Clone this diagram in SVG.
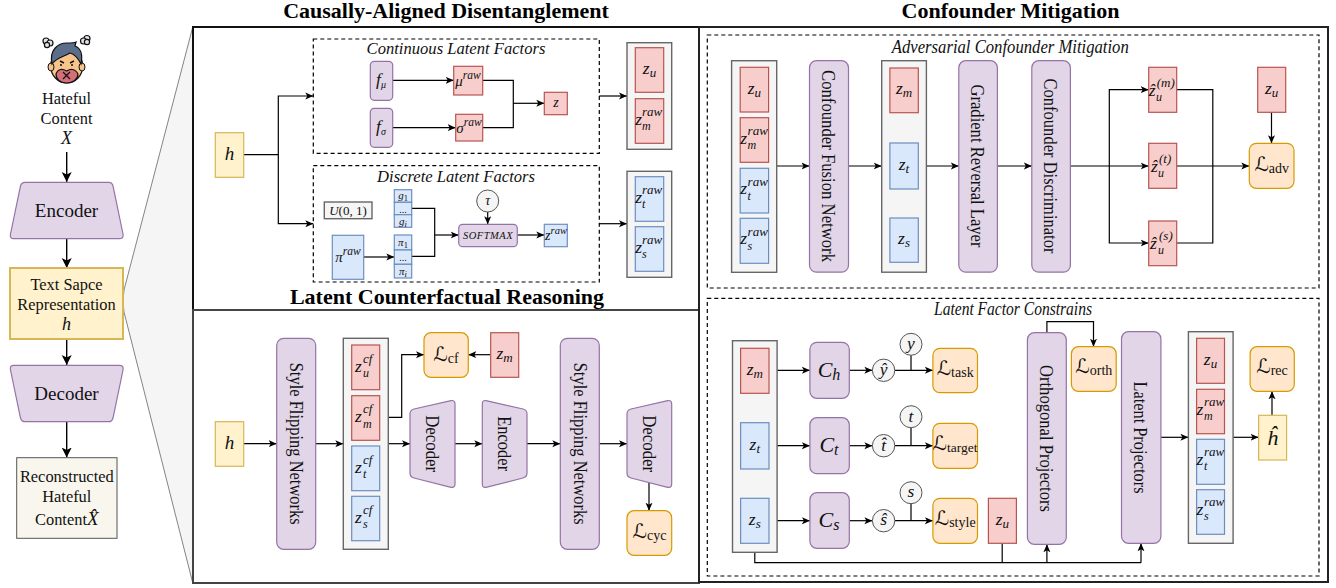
<svg xmlns="http://www.w3.org/2000/svg" width="1336" height="588" viewBox="0 0 1336 588">
<style>
text{font-family:"Liberation Serif","DejaVu Serif","DejaVu Sans",serif;fill:#111}
.ttl{font-size:22px;font-weight:bold;text-anchor:middle;fill:#000}
.cap{font-size:16.6px;font-style:italic;text-anchor:middle}
.lbl{font-size:16.4px;text-anchor:middle}
.big{font-size:19px;text-anchor:middle}
.vt{font-size:19px;text-anchor:middle}
.m{font-size:17.5px;font-style:italic;text-anchor:middle}
.raw{font-size:17.5px;font-style:italic}
.sup{font-size:13px;font-style:italic}
.sb{font-size:12px;font-style:italic}
.s{font-size:13px;font-style:italic}
.L{font-size:20px;font-style:italic;text-anchor:middle}
.ls{font-size:14px;font-style:normal}
.pur{fill:#e1d5e7;stroke:#9673a6;stroke-width:1.2}
.red{fill:#f8cecc;stroke:#b85450;stroke-width:1.2}
.blu{fill:#dae8fc;stroke:#6c8ebf;stroke-width:1.2}
.yel{fill:#fff2cc;stroke:#d6b656;stroke-width:1.2}
.org{fill:#ffe6cc;stroke:#d79b00;stroke-width:1.2}
.gry{fill:#f5f5f5;stroke:#666;stroke-width:1.4}
.circ{fill:#f5f5f5;stroke:#555;stroke-width:1}
.dash{fill:none;stroke:#000;stroke-width:1.2;stroke-dasharray:4 3}
.panel{fill:#fff;stroke-width:2}
.c{fill:none;stroke:#000;stroke-width:1.2;marker-end:url(#a)}
.n{fill:none;stroke:#000;stroke-width:1.2}
.cb{fill:none;stroke:#000;stroke-width:1.4;marker-end:url(#b)}
</style>
<defs>
<marker id="a" markerUnits="userSpaceOnUse" markerWidth="10" markerHeight="8" refX="8" refY="4" orient="auto"><path d="M0,0.5 L8,4 L0,7.5 L2,4 Z" fill="#000"/></marker>
<marker id="b" markerUnits="userSpaceOnUse" markerWidth="12" markerHeight="12" refX="10" refY="6" orient="auto"><path d="M0,1 L10,6 L0,11 L2.5,6 Z" fill="#000"/></marker>
</defs>
<rect width="1336" height="588" fill="#fff"/>

<g id="zoom-wedge"><path d="M193 26 L124 290 Q122 302 124 312 L193 584 Z" fill="#f5f5f5" stroke="#666" stroke-width="0.8"/></g>

<text class="ttl" x="446" y="18">Causally-Aligned Disentanglement</text>
<text class="ttl" x="1010.5" y="18">Confounder Mitigation</text>

<g id="panels">
<rect class="panel" x="193" y="27" width="506" height="283" stroke="#111"/>
<rect class="panel" x="193" y="310" width="506" height="273" stroke="#444"/>
<rect class="panel" x="699" y="27" width="629" height="555" stroke="#222"/>
<rect class="dash" x="313.3" y="39" width="286" height="114.3"/>
<rect class="dash" x="313.3" y="165.7" width="286" height="116.3"/>
<rect class="dash" x="707.3" y="35" width="611.7" height="253"/>
<rect class="dash" x="707.3" y="298.3" width="611.7" height="277.7"/>
</g>
<text class="ttl" x="447" y="304">Latent Counterfactual Reasoning</text>
<text class="cap" x="456" y="54">Continuous Latent Factors</text>
<text class="cap" x="456" y="182">Discrete Latent Factors</text>
<text class="cap" x="1010.3" y="53" textLength="237" lengthAdjust="spacingAndGlyphs" style="font-size:18px">Adversarial Confounder Mitigation</text>
<text class="cap" x="1013" y="315" textLength="158" lengthAdjust="spacingAndGlyphs" style="font-size:18px">Latent Factor Constrains</text>

<g id="connectors">
<path class="cb" d="M66.7 152V182"/>
<path class="cb" d="M66.7 238.7V268"/>
<path class="cb" d="M66.7 339V365"/>
<path class="cb" d="M66.7 421.7V457.5"/>
<path class="c" d="M243.7 154.7H278.3V96H313.3"/>
<path class="c" d="M278.3 154.7V223.7H313.3"/>
<path class="c" d="M392.7 80.3H453.7"/>
<path class="c" d="M392.7 127.7H455.7"/>
<path class="n" d="M482.7 80.3H513.3V127.7H482.7"/>
<path class="c" d="M513.3 103.3H544.3"/>
<path class="c" d="M599.3 96H627"/>
<path class="c" d="M599.3 223.7H627"/>
<path class="c" d="M363.7 257H394.3"/>
<path class="n" d="M411.7 208.3H434.7V256.3H411.7"/>
<path class="c" d="M434.7 235H458.7"/>
<path class="c" d="M517.3 235H544.3"/>
<path class="c" d="M487.7 212V224.3"/>
<path class="c" d="M243.7 443.7H276.7"/>
<path class="c" d="M315.7 443.7H343.3"/>
<path class="c" d="M388.3 443.7H410"/>
<path class="c" d="M455 443.7H482.3"/>
<path class="c" d="M527 443.7H560.3"/>
<path class="c" d="M599.3 443.7H627"/>
<path class="c" d="M379.7 417.3H401.7V354.7H424"/>
<path class="c" d="M490.7 354.7H468.3"/>
<path class="c" d="M649 482.7V510.7"/>
<path class="c" d="M776.7 166H809.5"/>
<path class="c" d="M848.5 166H881.7"/>
<path class="c" d="M926.4 166H958.8"/>
<path class="c" d="M997.4 166H1031.8"/>
<path class="c" d="M1070.4 166H1148.7"/>
<path class="c" d="M1109.3 166V89.7H1148.7"/>
<path class="c" d="M1109.3 166V243H1148.7"/>
<path class="n" d="M1176.7 89.7H1212.8V243H1176.7"/>
<path class="c" d="M1176.7 166H1249.3"/>
<path class="c" d="M1271.5 112.3V143.3"/>
<path class="c" d="M777.1 370.3H809.9"/>
<path class="c" d="M777.1 445.7H809.9"/>
<path class="c" d="M777.1 520.7H809.9"/>
<path class="c" d="M849.3 370.3H872.4"/>
<path class="c" d="M849.3 445.7H872.4"/>
<path class="c" d="M849.3 520.7H872.4"/>
<path class="c" d="M894.8 370.3H932.9"/>
<path class="c" d="M894.8 445.7H932.9"/>
<path class="c" d="M894.8 520.7H932.9"/>
<path class="n" d="M911 355.3V370.3M911 427.7V445.7M911 503.7V520.7"/>
<path class="n" d="M754.8 552.3V562.7H1141"/>
<path class="c" d="M1141 562.7V543.3"/>
<path class="n" d="M1002.2 543.3V562.7"/>
<path class="c" d="M1046.9 562.7V544.3"/>
<path class="c" d="M1046.9 332.7V321.7H1093.5V346.7"/>
<path class="c" d="M1160.9 437.3H1188.4"/>
<path class="c" d="M1233.1 437.3H1258.6"/>
<path class="c" d="M1272 415.3V391.3"/>
</g>

<g id="n-icon">
<g fill="#dfe3e8" stroke="#111" stroke-width="1.2"><circle cx="46" cy="41" r="3"/><circle cx="50" cy="43" r="3"/><circle cx="47" cy="45" r="2.6"/><circle cx="87" cy="38.5" r="3"/><circle cx="83.5" cy="41" r="3"/><circle cx="87" cy="42" r="2.6"/></g>
<ellipse cx="66.7" cy="66" rx="16" ry="17" fill="#f7c48c" stroke="#111" stroke-width="1.2"/>
<ellipse cx="51" cy="67" rx="3" ry="4" fill="#f7c48c" stroke="#111" stroke-width="1"/>
<ellipse cx="82" cy="67" rx="3" ry="4" fill="#f7c48c" stroke="#111" stroke-width="1"/>
<path d="M52 64C49 50 58 43 67 43C72 43 74 43 76 42L75 46C80 48 83 54 81 64C78 58 74 54 70 53C64 57 57 57 52 64Z" fill="#5a6e8c" stroke="#111" stroke-width="1.2"/>
<path d="M60 61l4 2M74 61l-4 2" stroke="#111" stroke-width="1.4" fill="none"/>
<circle cx="61" cy="65" r="1" fill="#111"/><circle cx="72" cy="65" r="1" fill="#111"/>
<path d="M56 74C58 68 63 69 66.7 71C70 69 75 68 78 74C78 79 73 83 66.7 83C60 83 56 79 56 74Z" fill="#d56f78" stroke="#111" stroke-width="1.2"/>
<path d="M63 72l7 7M70 72l-7 7" stroke="#111" stroke-width="1.2"/>
</g>
<g id="n-content"><text class="lbl" x="66.5" y="104">Hateful</text><text class="lbl" x="66.5" y="124">Content</text><text class="lbl" x="66.5" y="144" style="font-style:italic;font-size:18px">X</text></g>
<g id="n-encoder"><path class="pur" d="M25 182.3H109Q112 182.3 113 186L123 234Q124 238.7 119 238.7H14Q9.5 238.7 10.5 234L20.5 186Q21.5 182.3 25 182.3Z"/><text class="big" x="66.5" y="217">Encoder</text></g>
<g id="n-text-rep"><rect x="10" y="268" width="113" height="71" fill="#fff2cc" stroke="#d6b656" stroke-width="2"/><text class="lbl" x="66.5" y="290">Text Sapce</text><text class="lbl" x="66.5" y="310">Representation</text><text class="lbl" x="66.5" y="330" style="font-style:italic;font-size:18px">h</text></g>
<g id="n-decoder"><path class="pur" d="M14 365.3H119Q124 365.3 123 370L113 418Q112 421.7 109 421.7H25Q21.5 421.7 20.5 418L10.5 370Q9.5 365.3 14 365.3Z"/><text class="big" x="66.5" y="400">Decoder</text></g>
<g id="n-recon"><rect x="16.7" y="457.7" width="100.3" height="80.6" fill="#f9f7ed" stroke="#555" stroke-width="1"/><text class="lbl" x="66.8" y="482">Reconstructed</text><text class="lbl" x="66.8" y="502">Hateful</text><text class="lbl" x="66.8" y="525">Content<tspan style="font-style:italic;font-size:19px">X̂</tspan></text></g>

<g id="n-h-top"><rect class="yel" x="215.3" y="132.7" width="28.4" height="44.6"/><text class="m" x="229.5" y="160" style="font-size:19px">h</text></g>
<g id="n-f-mu"><rect class="pur" x="370.3" y="61.3" width="22.4" height="39" rx="4"/><text class="m" x="381" y="85">f<tspan class="sb" dy="3" style="font-size:10px">μ</tspan></text></g>
<g id="n-f-sigma"><rect class="pur" x="370.3" y="108.3" width="22.4" height="39" rx="4"/><text class="m" x="381" y="132">f<tspan class="sb" dy="3" style="font-size:10px">σ</tspan></text></g>
<g id="n-mu-raw"><rect class="red" x="453.7" y="66.3" width="29" height="28.7"/><text class="m" x="468" y="86" style="font-size:15px">μ<tspan class="sup" dy="-7" style="font-size:11.5px">raw</tspan></text></g>
<g id="n-sigma-raw"><rect class="red" x="455.7" y="114.3" width="27" height="26.7"/><text class="m" x="469" y="133" style="font-size:15px">σ<tspan class="sup" dy="-7" style="font-size:11.5px">raw</tspan></text></g>
<g id="n-z"><rect class="red" x="544.3" y="92.3" width="23" height="22.4"/><text class="m" x="556" y="107" style="font-size:14px">z</text></g>
<g id="n-stack-um"><rect class="gry" x="627" y="42.7" width="44.7" height="106.6"/>
<rect class="red" x="635.3" y="47.7" width="28.4" height="44.6"/><text class="m" x="649.5" y="74">z<tspan class="s" dy="3">u</tspan></text>
<rect class="red" x="635.3" y="98.7" width="28.4" height="44.6"/><text class="raw" x="635.3" y="124.7">z<tspan class="sup" x="642" y="116">raw</tspan><tspan class="sb" x="642" y="130">m</tspan></text></g>
<g id="n-stack-ts"><rect class="gry" x="627" y="171.3" width="44.7" height="106"/>
<rect class="blu" x="635.3" y="176.7" width="28.4" height="44.6"/><text class="raw" x="635.3" y="203">z<tspan class="sup" x="642" y="194">raw</tspan><tspan class="sb" x="642" y="208">t</tspan></text>
<rect class="blu" x="635.3" y="226.7" width="28.4" height="44.6"/><text class="raw" x="635.3" y="253">z<tspan class="sup" x="642" y="244">raw</tspan><tspan class="sb" x="642" y="258">s</tspan></text></g>
<g id="n-uniform"><rect class="gry" x="324.3" y="202" width="47.7" height="16.7" stroke-width="1"/><text class="m" x="348" y="215" style="font-size:13px">U<tspan style="font-style:normal">(0, 1)</tspan></text></g>
<g id="n-g"><rect class="blu" x="394.3" y="189.7" width="17.4" height="12.6"/><rect class="blu" x="394.3" y="202.3" width="17.4" height="12.4"/><rect class="blu" x="394.3" y="214.7" width="17.4" height="12.6"/>
<text class="m" x="403" y="199" style="font-size:11px">g<tspan dy="1.5" style="font-size:8.5px;font-style:normal">1</tspan></text><text class="m" x="403" y="213" style="font-size:10px;font-style:normal">...</text><text class="m" x="403" y="225" style="font-size:11px">g<tspan dy="1.5" style="font-size:8.5px">i</tspan></text></g>
<g id="n-pi"><rect class="blu" x="394.3" y="235" width="17.4" height="15"/><rect class="blu" x="394.3" y="250" width="17.4" height="14.3"/><rect class="blu" x="394.3" y="264.3" width="17.4" height="13.7"/>
<text class="m" x="403" y="246" style="font-size:11px">π<tspan dy="1.5" style="font-size:8.5px;font-style:normal">1</tspan></text><text class="m" x="403" y="261" style="font-size:10px;font-style:normal">...</text><text class="m" x="403" y="275" style="font-size:11px">π<tspan dy="1.5" style="font-size:8.5px">i</tspan></text></g>
<g id="n-pi-raw"><rect class="blu" x="332.3" y="235.3" width="31.4" height="44"/><text class="m" x="348" y="262" style="font-size:15px">π<tspan class="sup" dy="-7" style="font-size:11.5px">raw</tspan></text></g>
<g id="n-tau"><circle class="circ" cx="487.7" cy="201" r="11"/><text class="m" x="487.7" y="205" style="font-size:14px">τ</text></g>
<g id="n-softmax"><rect class="pur" x="458.7" y="224.3" width="58.6" height="22.4" rx="4"/><text class="m" x="488" y="238.5" style="font-size:10.5px;letter-spacing:.5px">SOFTMAX</text></g>
<g id="n-z-raw"><rect class="blu" x="544.3" y="224.3" width="23" height="22.4"/><text class="m" x="556" y="240" style="font-size:14px">z<tspan class="sup" dy="-6" style="font-size:10.5px">raw</tspan></text></g>

<g id="n-h-low"><rect class="yel" x="215.3" y="421.7" width="28.4" height="44.6"/><text class="m" x="229.5" y="449" style="font-size:19px">h</text></g>
<g id="n-sfn1"><rect class="pur" x="276.7" y="338.3" width="39" height="211" rx="7"/><text class="vt" transform="translate(290,443.7) rotate(90)" textLength="162" lengthAdjust="spacingAndGlyphs">Style Flipping Networks</text></g>
<g id="n-stack-cf"><rect class="gry" x="343.3" y="338.3" width="45" height="211"/>
<rect class="red" x="351.7" y="345" width="28" height="44.7"/><text class="raw" x="355" y="372">z<tspan class="sup" x="363" y="363">cf</tspan><tspan class="sb" x="363" y="377">u</tspan></text>
<rect class="red" x="351.7" y="395.7" width="28" height="44.6"/><text class="raw" x="355" y="422">z<tspan class="sup" x="363" y="413">cf</tspan><tspan class="sb" x="363" y="428">m</tspan></text>
<rect class="blu" x="351.7" y="446" width="28" height="44.7"/><text class="raw" x="355" y="473">z<tspan class="sup" x="363" y="464">cf</tspan><tspan class="sb" x="363" y="478">t</tspan></text>
<rect class="blu" x="351.7" y="496.3" width="28" height="44.4"/><text class="raw" x="355" y="523">z<tspan class="sup" x="363" y="514">cf</tspan><tspan class="sb" x="363" y="528">s</tspan></text></g>
<g id="n-lcf"><rect class="org" x="424" y="332.7" width="44.3" height="44.6" rx="7"/><text class="L" x="446" y="361">ℒ<tspan class="ls" dy="2">cf</tspan></text></g>
<g id="n-zm-low"><rect class="red" x="490.7" y="332.7" width="28" height="44.6"/><text class="m" x="504.5" y="359">z<tspan class="s" dy="3">m</tspan></text></g>
<g id="n-dec1"><path class="pur" d="M414 409L451 400.6Q455 400 455 404V484Q455 488 451 487.3L414 478Q410 477 410 473V414Q410 410 414 409Z"/><text class="vt" transform="translate(426,443.7) rotate(90)" textLength="57" lengthAdjust="spacingAndGlyphs">Decoder</text></g>
<g id="n-enc"><path class="pur" d="M523 409L486 400.6Q482.3 400 482.3 404V484Q482.3 488 486 487.3L523 478Q527 477 527 473V414Q527 410 523 409Z"/><text class="vt" transform="translate(498,443.7) rotate(90)" textLength="55" lengthAdjust="spacingAndGlyphs">Encoder</text></g>
<g id="n-sfn2"><rect class="pur" x="560.3" y="338.3" width="39" height="211" rx="7"/><text class="vt" transform="translate(574,443.7) rotate(90)" textLength="162" lengthAdjust="spacingAndGlyphs">Style Flipping Networks</text></g>
<g id="n-dec2"><path class="pur" d="M631 409L667.7 400.6Q671.7 400 671.7 404V484Q671.7 488 667.7 487.3L631 478Q627 477 627 473V414Q627 410 631 409Z"/><text class="vt" transform="translate(643,443.7) rotate(90)" textLength="57" lengthAdjust="spacingAndGlyphs">Decoder</text></g>
<g id="n-lcyc"><rect class="org" x="627" y="510.7" width="44.7" height="44.6" rx="7"/><text class="L" x="649.5" y="538">ℒ<tspan class="ls" dy="2">cyc</tspan></text></g>

<g id="n-stack-all"><rect class="gry" x="731.6" y="60.7" width="45.1" height="211.6"/>
<rect class="red" x="740.2" y="67.3" width="28.4" height="44.7"/><text class="m" x="754.4" y="94">z<tspan class="s" dy="3">u</tspan></text>
<rect class="red" x="740.2" y="117.7" width="28.4" height="44.6"/><text class="raw" x="740.2" y="143.7">z<tspan class="sup" x="747.6" y="135">raw</tspan><tspan class="sb" x="747.6" y="149">m</tspan></text>
<rect class="blu" x="740.2" y="168.3" width="28.4" height="44.7"/><text class="raw" x="740.2" y="194.3">z<tspan class="sup" x="747.6" y="186">raw</tspan><tspan class="sb" x="747.6" y="200">t</tspan></text>
<rect class="blu" x="740.2" y="218.3" width="28.4" height="45"/><text class="raw" x="740.2" y="244.3">z<tspan class="sup" x="747.6" y="236">raw</tspan><tspan class="sb" x="747.6" y="250">s</tspan></text></g>
<g id="n-cfn"><rect class="pur" x="809.5" y="60.7" width="39" height="211.5" rx="7"/><text class="vt" transform="translate(822,166) rotate(90)" textLength="192" lengthAdjust="spacingAndGlyphs">Confounder Fusion Network</text></g>
<g id="n-stack-mts"><rect class="gry" x="881.7" y="60.7" width="44.7" height="211.5"/>
<rect class="red" x="889.9" y="68" width="28.4" height="44.7"/><text class="m" x="904" y="94">z<tspan class="s" dy="3">m</tspan></text>
<rect class="blu" x="889.9" y="143" width="28.4" height="46"/><text class="m" x="904" y="170">z<tspan class="s" dy="3">t</tspan></text>
<rect class="blu" x="889.9" y="218" width="28.4" height="44.3"/><text class="m" x="904" y="244">z<tspan class="s" dy="3">s</tspan></text></g>
<g id="n-grl"><rect class="pur" x="958.8" y="60.7" width="38.6" height="211.5" rx="7"/><text class="vt" transform="translate(971,166) rotate(90)" textLength="163" lengthAdjust="spacingAndGlyphs">Gradient Reversal Layer</text></g>
<g id="n-cd"><rect class="pur" x="1031.8" y="60.7" width="38.6" height="211.5" rx="7"/><text class="vt" transform="translate(1044,166) rotate(90)" textLength="175" lengthAdjust="spacingAndGlyphs">Confounder Discriminator</text></g>
<g id="n-zh-m"><rect class="red" x="1148.7" y="67.3" width="28" height="45"/><text class="raw" x="1148.7" y="96">ẑ<tspan class="sup" x="1156.7" y="87">(m)</tspan><tspan class="sb" x="1156" y="101">u</tspan></text></g>
<g id="n-zh-t"><rect class="red" x="1148.7" y="143.3" width="28" height="45"/><text class="raw" x="1151" y="172">ẑ<tspan class="sup" x="1159" y="163">(t)</tspan><tspan class="sb" x="1158" y="177">u</tspan></text></g>
<g id="n-zh-s"><rect class="red" x="1148.7" y="221" width="28" height="44.7"/><text class="raw" x="1150" y="249">ẑ<tspan class="sup" x="1159" y="240">(s)</tspan><tspan class="sb" x="1158" y="254">u</tspan></text></g>
<g id="n-zu-r"><rect class="red" x="1257.7" y="67.3" width="28" height="45"/><text class="m" x="1271.7" y="94">z<tspan class="s" dy="3">u</tspan></text></g>
<g id="n-ladv"><rect class="org" x="1249.3" y="143.3" width="44.7" height="45" rx="7"/><text class="L" x="1271.7" y="171">ℒ<tspan class="ls" dy="2">adv</tspan></text></g>

<g id="n-stack-mts2"><rect class="gry" x="732.5" y="340.7" width="44.6" height="211.6"/>
<rect class="red" x="740.6" y="348.3" width="28.4" height="45"/><text class="m" x="754.8" y="375">z<tspan class="s" dy="3">m</tspan></text>
<rect class="blu" x="740.6" y="422.7" width="28.4" height="46.3"/><text class="m" x="754.8" y="450">z<tspan class="s" dy="3">t</tspan></text>
<rect class="blu" x="740.6" y="498.3" width="28.4" height="45"/><text class="m" x="754.8" y="525">z<tspan class="s" dy="3">s</tspan></text></g>
<g id="n-ch"><rect class="pur" x="809.9" y="342.3" width="39.4" height="56" rx="7"/><text class="m" x="829" y="377" style="font-size:22px">C<tspan class="s" dy="3" style="font-size:16px">h</tspan></text></g>
<g id="n-ct"><rect class="pur" x="809.9" y="417.7" width="39.4" height="56" rx="7"/><text class="m" x="829" y="452" style="font-size:22px">C<tspan class="s" dy="3" style="font-size:16px">t</tspan></text></g>
<g id="n-cs"><rect class="pur" x="809.9" y="492.7" width="39.4" height="55.6" rx="7"/><text class="m" x="829" y="527" style="font-size:22px">C<tspan class="s" dy="3" style="font-size:16px">s</tspan></text></g>
<g id="n-yh"><circle class="circ" cx="883.6" cy="370.3" r="11.2"/><text class="m" x="883.6" y="375">ŷ</text></g>
<g id="n-th"><circle class="circ" cx="883.6" cy="445.7" r="11.2"/><text class="m" x="883.6" y="450.5">t̂</text></g>
<g id="n-sh"><circle class="circ" cx="883.6" cy="520.7" r="11.2"/><text class="m" x="883.6" y="525">ŝ</text></g>
<g id="n-y"><circle class="circ" cx="911" cy="344.3" r="11"/><text class="m" x="911" y="349">y</text></g>
<g id="n-t"><circle class="circ" cx="911" cy="416.7" r="11"/><text class="m" x="911" y="421.5">t</text></g>
<g id="n-s"><circle class="circ" cx="911" cy="492.7" r="11"/><text class="m" x="911" y="497">s</text></g>
<g id="n-ltask"><rect class="org" x="932.9" y="348.3" width="44.6" height="44.4" rx="7"/><text class="L" x="955.2" y="375">ℒ<tspan class="ls" dy="2">task</tspan></text></g>
<g id="n-ltarget"><rect class="org" x="932.9" y="423.3" width="44.6" height="45" rx="7"/><text class="L" x="955" y="450">ℒ<tspan class="ls" dy="2" style="font-size:13.5px">target</tspan></text></g>
<g id="n-lstyle"><rect class="org" x="932.9" y="498.3" width="44.6" height="45" rx="7"/><text class="L" x="955.2" y="525">ℒ<tspan class="ls" dy="2">style</tspan></text></g>
<g id="n-zu-c"><rect class="red" x="988.4" y="498.3" width="28" height="45"/><text class="m" x="1002.4" y="525">z<tspan class="s" dy="3">u</tspan></text></g>
<g id="n-orth"><rect class="pur" x="1027.4" y="332.7" width="38.9" height="211.6" rx="7"/><text class="vt" transform="translate(1040,438.5) rotate(90)" textLength="147" lengthAdjust="spacingAndGlyphs">Orthogonal Projectors</text></g>
<g id="n-lorth"><rect class="org" x="1071.4" y="346.7" width="44.8" height="44.6" rx="7"/><text class="L" x="1093.8" y="373">ℒ<tspan class="ls" dy="2">orth</tspan></text></g>
<g id="n-lp"><rect class="pur" x="1121.5" y="331.7" width="39.4" height="211.6" rx="7"/><text class="vt" transform="translate(1133.5,437.5) rotate(90)" textLength="112" lengthAdjust="spacingAndGlyphs">Latent Projectors</text></g>
<g id="n-stack-rec"><rect class="gry" x="1188.4" y="331.7" width="44.7" height="211.6"/>
<rect class="red" x="1196.6" y="338.3" width="27.9" height="45"/><text class="m" x="1210.5" y="365">z<tspan class="s" dy="3">u</tspan></text>
<rect class="red" x="1196.6" y="389.3" width="27.9" height="44.4"/><text class="raw" x="1196.6" y="415">z<tspan class="sup" x="1204" y="406">raw</tspan><tspan class="sb" x="1204" y="420">m</tspan></text>
<rect class="blu" x="1196.6" y="439.3" width="27.9" height="45"/><text class="raw" x="1196.6" y="465">z<tspan class="sup" x="1204" y="456">raw</tspan><tspan class="sb" x="1204" y="470">t</tspan></text>
<rect class="blu" x="1196.6" y="489.7" width="27.9" height="44.6"/><text class="raw" x="1196.6" y="515">z<tspan class="sup" x="1204" y="506">raw</tspan><tspan class="sb" x="1204" y="520">s</tspan></text></g>
<g id="n-lrec"><rect class="org" x="1250.1" y="346.7" width="44.2" height="44.6" rx="7"/><text class="L" x="1272" y="373">ℒ<tspan class="ls" dy="2">rec</tspan></text></g>
<g id="n-hhat"><rect class="yel" x="1258.6" y="415.3" width="28" height="44.7"/><text class="m" x="1272.5" y="445" style="font-size:22px">ĥ</text></g>
</svg>
